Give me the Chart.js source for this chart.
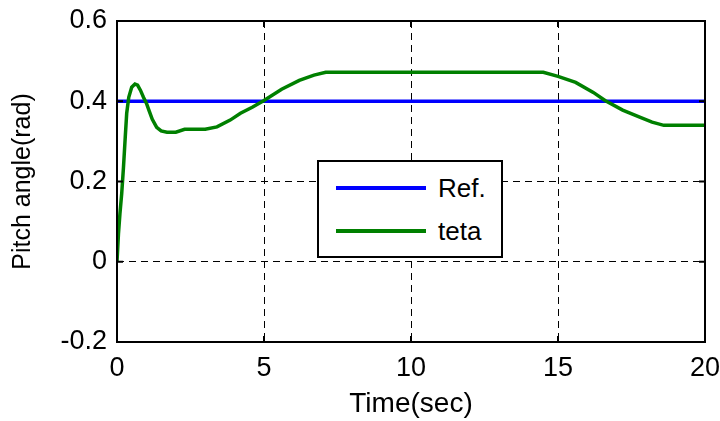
<!DOCTYPE html>
<html>
<head>
<meta charset="utf-8">
<script src="https://cdn.jsdelivr.net/npm/chart.js@4.4.0/dist/chart.umd.min.js"></script>
<style>
  html, body { margin: 0; padding: 0; background: #fff; }
  #wrap { position: relative; width: 720px; height: 421px; }
  #legend {
    position: absolute; left: 317px; top: 160px; width: 182px; height: 94px;
    background: #fff; border: 2px solid #000;
    font-family: "Liberation Sans", Arial, sans-serif; font-size: 26px; color: #000;
  }
  .row { position: absolute; left: 0; height: 30px; line-height: 30px; }
  .row span.ln { position: absolute; left: 17px; top: 13px; width: 90px; height: 4px; }
  .row span.tx { position: absolute; left: 119px; top: 0; white-space: nowrap; }
</style>
</head>
<body>
<div id="wrap">
  <canvas id="myChart" width="720" height="421"></canvas>
  <div id="legend">
    <div class="row" style="top:11px"><span class="ln" style="background:#0000ff"></span><span class="tx">Ref.</span></div>
    <div class="row" style="top:54px"><span class="ln" style="background:#008000"></span><span class="tx">teta</span></div>
  </div>
</div>
<script>
// time axis and values
const refTime = [0, 20];
const refValues = [0.4, 0.4];

const tetaTime = [0, 0.05, 0.1, 0.16, 0.22, 0.28, 0.33, 0.4, 0.5, 0.61,
  0.7, 0.8, 0.9, 1.0, 1.1, 1.2, 1.35, 1.5, 1.7, 2.0,
  2.3, 2.5, 3.0, 3.4, 3.85, 4.2, 4.6, 5.0, 5.6, 6.2,
  6.7, 7.1, 10, 14.5, 15.0, 15.6, 16.2, 16.6, 17.2, 17.8,
  18.2, 18.6, 20];
const tetaValues = [0, 0.07, 0.12, 0.17, 0.235, 0.31, 0.37, 0.41, 0.435, 0.443,
  0.44, 0.427, 0.41, 0.395, 0.375, 0.355, 0.335, 0.326, 0.323, 0.323,
  0.33, 0.33, 0.33, 0.336, 0.353, 0.37, 0.385, 0.402, 0.43, 0.452,
  0.465, 0.472, 0.472, 0.472, 0.462, 0.447, 0.422, 0.402, 0.378, 0.36,
  0.348, 0.34, 0.34];

const xTicks = [0, 5, 10, 15, 20];
const yTicks = [-0.2, 0, 0.2, 0.4, 0.6];

(() => {
  'use strict';

  const family = '"Liberation Sans", Arial, sans-serif';
  const tickFont = { family: family, size: 27 };
  const toPoints = (xs, ys) => xs.map((x, i) => ({ x: x, y: ys[i] }));

  // box around the plot plus small inward ticks, matlab style
  const boxPlugin = {
    id: 'box',
    afterDatasetsDraw(chart) {
      const { ctx, chartArea: a, scales } = chart;
      ctx.save();
      ctx.strokeStyle = '#000';
      ctx.lineWidth = 2;
      ctx.strokeRect(a.left, a.top, a.right - a.left, a.bottom - a.top);
      ctx.beginPath();
      xTicks.forEach(v => {
        const px = scales.x.getPixelForValue(v);
        ctx.moveTo(px, a.bottom); ctx.lineTo(px, a.bottom - 6);
        ctx.moveTo(px, a.top); ctx.lineTo(px, a.top + 6);
      });
      yTicks.forEach(v => {
        const py = scales.y.getPixelForValue(v);
        ctx.moveTo(a.left, py); ctx.lineTo(a.left + 6, py);
        ctx.moveTo(a.right, py); ctx.lineTo(a.right - 6, py);
      });
      ctx.stroke();
      ctx.restore();
    }
  };

  const ctx = document.getElementById('myChart');
  new Chart(ctx, {
    type: 'line',
    data: {
      datasets: [
        {
          label: 'Ref.',
          data: toPoints(refTime, refValues),
          borderColor: '#0000ff',
          borderWidth: 3.5,
          pointRadius: 0,
          order: 1
        },
        {
          label: 'teta',
          data: toPoints(tetaTime, tetaValues),
          borderColor: '#008000',
          borderWidth: 3.5,
          pointRadius: 0,
          tension: 0,
          order: 0
        }
      ]
    },
    options: {
      responsive: false,
      animation: false,
      layout: { padding: { left: 0, right: 15, top: 21, bottom: 0 } },
      plugins: {
        legend: { display: false },
        tooltip: { enabled: false }
      },
      scales: {
        x: {
          type: 'linear',
          min: 0,
          max: 20,
          afterBuildTicks: s => { s.ticks = xTicks.map(v => ({ value: v })); },
          afterFit: s => { s.height = 79; s.paddingLeft = 0; s.paddingRight = 0; },
          ticks: { color: '#000', font: tickFont, padding: 10, maxRotation: 0 },
          grid: { color: '#000', lineWidth: 1, drawTicks: false },
          border: { display: false, dash: [7, 5] },
          title: {
            display: true, text: 'Time(sec)', color: '#000',
            font: { family: family, size: 28 }, padding: { top: 0, bottom: 0 }
          }
        },
        y: {
          min: -0.2,
          max: 0.6,
          afterBuildTicks: s => { s.ticks = yTicks.map(v => ({ value: v })); },
          afterFit: s => { s.width = 117; s.paddingTop = 0; s.paddingBottom = 0; },
          ticks: {
            color: '#000',
            font: tickFont,
            padding: 10,
            callback: v => String(parseFloat(v.toFixed(1)))
          },
          grid: { color: '#000', lineWidth: 1, drawTicks: false },
          border: { display: false, dash: [7, 5] },
          title: {
            display: true, text: 'Pitch angle(rad)', color: '#000',
            font: { family: family, size: 25 }, padding: { top: 8, bottom: 4 }
          }
        }
      }
    },
    plugins: [boxPlugin]
  });
})();
</script>
</body>
</html>
